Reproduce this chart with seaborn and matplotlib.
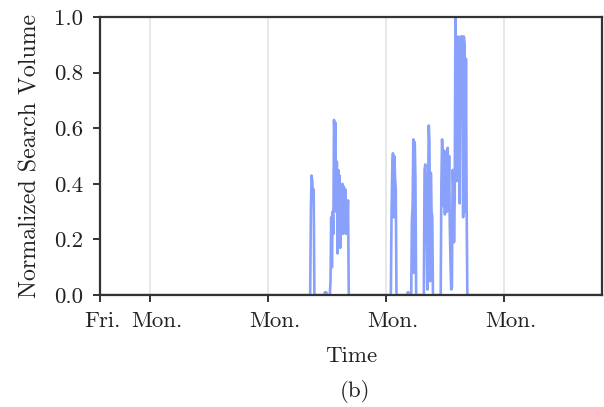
import numpy as np
import pandas as pd
import matplotlib
matplotlib.use("Agg")
import matplotlib.pyplot as plt
import matplotlib.transforms as mtransforms
import seaborn as sns

# ---- data (hourly normalized search volume, 30 days starting on a Friday) ----
start_date = "2020-01-03"   # a Friday
n_hours = 720

seg1_start = 301
seg1_vals = [0.30, 0.43, 0.41, 0.36, 0.38]
bump1_start = 321
bump1_vals = [0.01, 0.01, 0.01]
seg2_start = 329
seg2_vals = [0.05, 0.28, 0.10, 0.30, 0.22, 0.63, 0.55, 0.62, 0.30, 0.48, 0.15,
             0.45, 0.28, 0.43, 0.17, 0.38, 0.25, 0.40, 0.22, 0.39, 0.24, 0.38,
             0.22, 0.34, 0.30, 0.34]
seg3_start = 416
seg3_vals = [0.30, 0.45, 0.51, 0.28, 0.50, 0.42, 0.38]
bump2_start = 439
bump2_vals = [0.01, 0.01]
seg4_start = 445
seg4_vals = [0.27, 0.32, 0.56, 0.08, 0.55, 0.42]
seg5_start = 463
seg5_vals = [0.45, 0.47, 0.40, 0.24, 0.02, 0.35, 0.61, 0.55, 0.05, 0.44, 0.30, 0.28]
seg6_start = 487
seg6_vals = [0.40, 0.56, 0.48, 0.32, 0.52, 0.29, 0.46, 0.31, 0.30, 0.53, 0.31,
             0.50, 0.25, 0.12, 0.02, 0.03, 0.45, 0.40, 0.19, 0.35, 1.00, 0.72,
             0.41, 0.75, 0.93, 0.80, 0.33, 0.80, 0.93, 0.80, 0.93, 0.28, 0.93,
             0.90, 0.30, 0.85, 0.31]

tick_days = [0, 3, 10, 17, 24]
tick_labels = ["Fri.", "Mon.", "Mon.", "Mon.", "Mon."]

# ---- assemble series ----
volume = np.zeros(n_hours)
for s, v in [(seg1_start, seg1_vals), (bump1_start, bump1_vals),
             (seg2_start, seg2_vals), (seg3_start, seg3_vals),
             (bump2_start, bump2_vals), (seg4_start, seg4_vals),
             (seg5_start, seg5_vals), (seg6_start, seg6_vals)]:
    volume[s:s + len(v)] = v

t0 = pd.Timestamp(start_date)
times = pd.date_range(t0, periods=n_hours, freq="h")
df = pd.DataFrame({"Time": times, "Volume": volume})

# ---- style ----
sns.set_style("ticks")
plt.rcParams["font.family"] = ["cmr10", "DejaVu Serif"]
plt.rcParams["axes.formatter.use_mathtext"] = True
plt.rcParams["mathtext.fontset"] = "cm"

FS = 16.5
fig = plt.figure(figsize=(6.04, 4.07), dpi=100)
ax = fig.add_axes([0.165, 0.275, 0.832, 0.683])

sns.lineplot(data=df, x="Time", y="Volume", ax=ax, color="#8aa1fc",
             linewidth=1.9)

ax.set_ylim(0, 1.0)
ax.set_yticks([0, 0.2, 0.4, 0.6, 0.8, 1.0])
ax.set_yticklabels(["0.0", "0.2", "0.4", "0.6", "0.8", "1.0"])
ax.set_xlim(t0, t0 + pd.Timedelta(days=29.84))
ax.set_xticks([t0 + pd.Timedelta(days=d) for d in tick_days])
ax.set_xticklabels(tick_labels)

for d in tick_days[1:]:
    ax.axvline(t0 + pd.Timedelta(days=d), color="#e6e6e6", linewidth=1.3,
               zorder=0)

for sp in ax.spines.values():
    sp.set_color("#333333")
    sp.set_linewidth(1.6)
    sp.set_zorder(3)

ax.tick_params(axis="both", labelsize=FS, length=5, width=1.4,
               color="#333333", labelcolor="#222222")
ax.tick_params(axis="x", pad=7)
ax.tick_params(axis="y", pad=7)

# small rightward shift of the x tick labels, as in the reference
for lbl, dx in zip(ax.get_xticklabels(), [2.2, 5, 5, 5, 5]):
    lbl.set_transform(lbl.get_transform() +
                      mtransforms.ScaledTranslation(dx / 72, 0,
                                                    fig.dpi_scale_trans))

ax.set_xlabel("Time", fontsize=FS, labelpad=11, color="#222222")
ax.set_ylabel("Normalized Search Volume", fontsize=17.2, labelpad=9,
              color="#222222")
fig.text(0.588, 0.037, "(b)", fontsize=FS, ha="center", va="center",
         color="#222222")

fig.savefig("out.png", dpi=100)
